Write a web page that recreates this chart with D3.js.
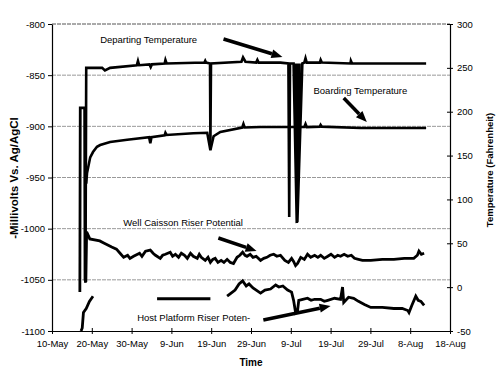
<!DOCTYPE html>
<html>
<head>
<meta charset="utf-8">
<script src="https://cdnjs.cloudflare.com/ajax/libs/d3/7.8.5/d3.min.js"></script>
<style>
body { margin: 0; background: #fff; }
text { font-family: "Liberation Sans", Arial, sans-serif; fill: #000; }
</style>
</head>
<body>
<svg width="500" height="385"></svg>
<script>
// days after 10-May, and readings
var departing = [[8.4,5],[8.6,250],[12.6,250],[13.3,247],[14.6,250],[21.3,253],[21.6,258],[21.9,253],[24.5,254],[24.8,251],[25.1,254],
  [28.3,255],[28.5,259],[28.8,255],[38.3,256],[38.5,258],[38.7,256],[39.7,255],[39.8,162],[39.95,255],[47.6,257],[48.0,262],[48.6,257],
  [51.3,256],[51.6,259],[51.9,256],[57.4,256],[59.4,255],[59.6,80],[59.8,255],[60.7,255],[61.5,73],[61.2,255],[61.55,75],[61.7,255],
  [61.6,76],[62.2,255],[61.65,74],[62.9,255],[63.4,256],[63.7,261],[64.0,256],[67.3,256],[67.5,259],[67.8,256],[75.0,255],[75.1,258],
  [75.4,255],[94.0,255]];

var boarding = [[8.6,118],[8.8,130],[9.6,148],[10.3,154],[11.3,160],[12.1,162],[14.6,165.5],[18.9,168],[24.4,171],[24.7,164],[25.0,171],
  [28.3,173],[28.5,176],[28.8,173.5],[35.5,175.5],[39.0,176],[39.8,156],[40.6,172],[42.3,177],[47.8,182],[48.1,186],[48.4,182],
  [52.4,182.5],[59.9,182.5],[63.4,182.5],[63.7,186],[64.0,182.5],[67.3,183],[67.5,185],[67.8,183],[77.6,181.5],[94.0,181.5]];

var caisson = [[7.0,-1062],[7.1,-882],[8.2,-882],[8.3,-1050],[8.5,-1052],[8.7,-1003],[9.5,-1010],[12.0,-1012],[13.0,-1014],[15.0,-1018],
  [16.2,-1020],[17.1,-1024],[18.0,-1028],[19.0,-1026],[19.6,-1029],[20.5,-1027],[22.0,-1024],[22.6,-1027],[23.5,-1022],[24.7,-1021],
  [25.4,-1024],[26.0,-1026],[27.2,-1029],[27.8,-1026],[28.5,-1025],[29.7,-1023],[30.3,-1027],[31.0,-1025],[31.8,-1028],[32.5,-1024],
  [33.3,-1026],[34.0,-1029],[34.8,-1024],[35.5,-1027],[36.5,-1029],[37.0,-1025],[37.5,-1028],[38.5,-1031],[39.2,-1028],[39.8,-1033],
  [40.4,-1030],[41.0,-1029],[41.7,-1033],[42.5,-1031],[43.2,-1033],[44.0,-1030],[44.8,-1033],[45.6,-1034],[46.5,-1028],[47.2,-1026],
  [47.9,-1023],[48.5,-1026],[49.0,-1027],[49.8,-1025],[50.5,-1028],[51.3,-1027],[52.4,-1031],[53.2,-1029],[54.0,-1028],[54.8,-1026],
  [55.7,-1025],[56.5,-1027],[57.4,-1026],[58.5,-1031],[59.4,-1033],[60.2,-1029],[60.7,-1032],[61.2,-1036],[61.7,-1034],[62.5,-1028],
  [63.4,-1030],[64.2,-1025],[65.0,-1028],[66.0,-1026],[66.8,-1028],[67.5,-1026],[68.4,-1029],[69.3,-1027],[70.1,-1025],[71.0,-1028],
  [71.8,-1026],[72.5,-1027],[73.4,-1025],[74.3,-1027],[75.2,-1026],[76.0,-1029],[77.0,-1030],[78.0,-1031],[80.1,-1031],[83.0,-1030],
  [85.9,-1030],[88.5,-1029],[90.9,-1029],[91.8,-1026],[92.2,-1022],[92.8,-1025],[93.5,-1024]];

var host = [[7.3,-1100],[7.6,-1097],[7.9,-1082],[8.6,-1078],[9.4,-1071],[10.3,-1066],[18,null],[26.4,-1068.5],[39.8,-1068.5],[42,null],
  [44.0,-1066],[45.0,-1063],[46.0,-1060],[47.0,-1054],[47.9,-1051],[48.8,-1056],[49.5,-1054],[50.5,-1058],[52.4,-1063],[53.5,-1060],
  [54.9,-1059],[56.2,-1055],[57.0,-1057],[58.0,-1056],[59.2,-1060],[60.2,-1062],[60.7,-1070],[61.2,-1082],[61.7,-1080],[62.0,-1070],
  [63.0,-1069],[64.2,-1068],[65.1,-1070],[66.0,-1069],[67.5,-1069],[68.4,-1071],[69.3,-1070],[71.0,-1068],[72.5,-1069],[73.0,-1057],
  [73.3,-1072],[74.5,-1067],[75.8,-1068],[77.0,-1071],[78.5,-1074],[80.1,-1077],[83.0,-1077],[85.9,-1078],[88.0,-1078],[89.4,-1080],
  [89.7,-1082],[90.4,-1075],[91.4,-1066],[92.0,-1070],[92.7,-1071],[93.5,-1075]];

var mvTicks = [-1100,-1050,-1000,-950,-900,-850,-800];
var tempTicks = [-50,0,50,100,150,200,250,300];
var dayTicks = [0,10,20,30,40,50,60,70,80,90,100];

// annotations: text, start day, mV (left axis)
var notes = [["Departing Temperature",12.1,-818.6],["Boarding Temperature",65.7,-868.4],
  ["Well Caisson Riser Potential",17.9,-997.4],["Host Platform Riser Poten-",21.4,-1090.2]];
// arrows: from day, mV to day, mV
var arrows = [[43.1,-814.7,57.9,-832.2],[73.3,-872.3,79.1,-895.7],[41.8,-1009.1,51.4,-1021.8],[53.1,-1089.2,70.0,-1075.5]];

var start = new Date(2001,4,10);
function toDate(d){ return new Date(start.getTime() + d*864e5); }

var svg = d3.select('svg');
var x = d3.scaleTime().domain([toDate(0),toDate(100)]).range([52,450]);
var yL = d3.scaleLinear().domain([-1100,-800]).range([331,24]);
var yR = d3.scaleLinear().domain([-50,300]).range([331,24]);

// gridlines
svg.append('g').selectAll('line').data(mvTicks.slice(1))
  .enter().append('line')
  .attr('x1',52).attr('x2',450)
  .attr('y1',d=>yL(d)).attr('y2',d=>yL(d))
  .attr('stroke',d=> d==-800 ? '#555' : '#999')
  .attr('stroke-width',1)
  .attr('stroke-dasharray','4,1');

// series
var lineL = d3.line().defined(d=>d[1]!=null).x(d=>x(toDate(d[0]))).y(d=>yL(d[1]));
var lineR = d3.line().x(d=>x(toDate(d[0]))).y(d=>yR(d[1]));

svg.append('path').attr('d',lineR(departing)).attr('fill','none').attr('stroke','#000').attr('stroke-width',2.6);
svg.append('path').attr('d',lineR(boarding)).attr('fill','none').attr('stroke','#000').attr('stroke-width',2.6);
svg.append('path').attr('d',lineL(caisson)).attr('fill','none').attr('stroke','#000').attr('stroke-width',2.8);
svg.append('path').attr('d',lineL(host)).attr('fill','none').attr('stroke','#000').attr('stroke-width',2.8);

// axes
var plain = d => String(d);
var gx = svg.append('g').attr('transform','translate(0,331)')
  .call(d3.axisBottom(x).tickValues(dayTicks.map(toDate)).tickFormat(d3.timeFormat('%-d-%b')).tickSizeInner(3).tickSizeOuter(0));
gx.selectAll('.tick line').attr('y1',-3);
gx.selectAll('text').attr('y',9).style('font-size','9.5px');

var gl = svg.append('g').attr('transform','translate(52,0)')
  .call(d3.axisLeft(yL).tickValues(mvTicks).tickFormat(plain).tickSizeInner(4).tickSizeOuter(0));
gl.selectAll('text').attr('x',-7).style('font-size','9.5px');

var gr = svg.append('g').attr('transform','translate(450,0)')
  .call(d3.axisRight(yR).tickValues(tempTicks).tickFormat(plain).tickSizeInner(3).tickSizeOuter(0));
gr.selectAll('.tick line').attr('x1',-3);
gr.selectAll('text').attr('x',7).style('font-size','9.5px');

svg.selectAll('.domain').attr('stroke','#000').attr('stroke-width',1.2);
svg.selectAll('.tick line').attr('stroke','#000');
svg.selectAll('.tick text').attr('font-family','"Liberation Sans", Arial, sans-serif');

// axis titles
svg.append('text').attr('x',251).attr('y',366).attr('text-anchor','middle')
  .style('font-weight','bold').style('font-size','10px').text('Time');
svg.append('text').attr('transform','translate(18,178) rotate(-90)').attr('text-anchor','middle')
  .style('font-weight','bold').style('font-size','11.5px').text('-Millivolts Vs. Ag/AgCl');
svg.append('text').attr('transform','translate(493,170) rotate(-90)').attr('text-anchor','middle')
  .style('font-weight','bold').style('font-size','9.5px').text('Temperature (Fahrenheit)');

// annotations
svg.append('g').selectAll('text').data(notes).enter().append('text')
  .attr('x',d=>x(toDate(d[1]))).attr('y',d=>yL(d[2]))
  .style('font-size','9.5px').text(d=>d[0]);

var ag = svg.append('g');
arrows.forEach(function(a){
  var x1 = x(toDate(a[0])), y1 = yL(a[1]), x2 = x(toDate(a[2])), y2 = yL(a[3]);
  var ang = Math.atan2(y2-y1, x2-x1), hl = 11, hw = 4.5;
  var bx = x2 - hl*Math.cos(ang), by = y2 - hl*Math.sin(ang);
  ag.append('line').attr('x1',x1).attr('y1',y1).attr('x2',bx).attr('y2',by)
    .attr('stroke','#000').attr('stroke-width',3.5);
  ag.append('path').attr('fill','#000')
    .attr('d','M'+x2+','+y2+'L'+(bx+hw*Math.sin(ang))+','+(by-hw*Math.cos(ang))+'L'+(bx-hw*Math.sin(ang))+','+(by+hw*Math.cos(ang))+'Z');
});
</script>
</body>
</html>
